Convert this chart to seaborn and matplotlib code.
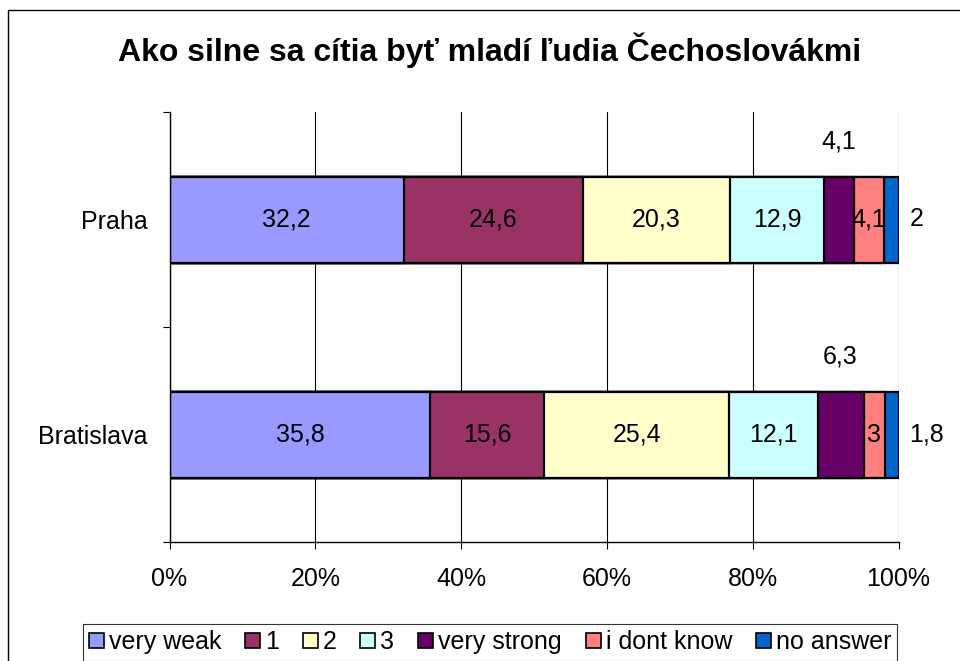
import numpy as np
import pandas as pd
import seaborn as sns
import matplotlib.pyplot as plt
from matplotlib.patches import Patch, Rectangle

# Dáta z grafu
mesta = ['Praha', 'Bratislava']
kategorie = ['very weak', '1', '2', '3', 'very strong', 'i dont know', 'no answer']
praha = [32.2, 24.6, 20.3, 12.9, 4.1, 4.1, 2]
bratislava = [35.8, 15.6, 25.4, 12.1, 6.3, 3, 1.8]
farby = ['#9999FF', '#993366', '#FFFFCC', '#CCFFFF', '#660066', '#FF8080', '#0066CC']
titulok = 'Ako silne sa cítia byť mladí ľudia Čechoslovákmi'

df = pd.DataFrame([praha, bratislava], index=mesta, columns=kategorie)
pct = df.div(df.sum(axis=1), axis=0) * 100
cum = pct.cumsum(axis=1)

sns.set_theme(style='white')
plt.rcParams['font.family'] = ['Liberation Sans', 'DejaVu Sans']
plt.rcParams['text.color'] = 'black'
plt.rcParams['xtick.color'] = 'black'
plt.rcParams['ytick.color'] = 'black'
plt.rcParams['axes.labelcolor'] = 'black'

fig = plt.figure(figsize=(9.6, 6.61), dpi=100)
ax = fig.add_axes([169.5 / 960, 119 / 661, 729 / 960, 430 / 661])

# Stacked bars: najprv najdlhšie kumulatívne, potom kratšie cez ne
for kat, farba in zip(reversed(kategorie), reversed(farby)):
    sns.barplot(x=cum[kat].values, y=mesta, orient='h', color=farba,
                edgecolor='black', linewidth=1.6, width=0.4, ax=ax,
                saturation=1)

ax.set_xlim(0, 100)
ax.set_ylim(1.5, -0.5)
ax.set_xticks(np.arange(0, 101, 20))
ax.set_xticklabels([f'{v}%' for v in range(0, 101, 20)])
ax.set_yticks([0, 1])
ax.set_yticklabels(mesta)
ax.set_yticks([-0.5, 0.5, 1.5], minor=True)
ax.set_xlabel('')
ax.set_ylabel('')
ax.grid(axis='x', color='black', linewidth=0.8)
ax.set_axisbelow(True)
for s in ['top', 'right']:
    ax.spines[s].set_visible(False)
for s in ['left', 'bottom']:
    ax.spines[s].set_color('black')
    ax.spines[s].set_linewidth(1.0)
ax.tick_params(axis='x', which='major', direction='out', length=5, width=0.8,
               color='black', pad=13, labelsize=18, bottom=True)
ax.tick_params(axis='y', which='major', length=0, pad=16, labelsize=18)
ax.tick_params(axis='y', which='minor', direction='out', length=5, width=0.8,
               color='black', left=True)


def fmt(v):
    return f'{v:g}'.replace('.', ',')


# Popisky hodnôt
for i, mesto in enumerate(mesta):
    for j, kat in enumerate(kategorie):
        start = cum.loc[mesto].iloc[j] - pct.loc[mesto].iloc[j]
        stred = start + pct.loc[mesto].iloc[j] / 2
        hodnota = df.loc[mesto, kat]
        if kat == 'very strong':
            ax.annotate(fmt(hodnota), (stred, i), xytext=(0, 56),
                        textcoords='offset points', ha='center', va='center',
                        fontsize=18, color='black')
        elif kat == 'no answer':
            ax.annotate(fmt(hodnota), (100, i), xytext=(8, 0),
                        textcoords='offset points', ha='left', va='center',
                        fontsize=18, color='black', annotation_clip=False)
        else:
            ax.text(stred, i, fmt(hodnota), ha='center', va='center',
                    fontsize=18, color='black')

fig.text(490 / 960, 1 - 50 / 661, titulok, ha='center', va='center',
         fontsize=23, fontweight='bold', color='black')

handles = [Patch(facecolor=f, edgecolor='black', linewidth=1.2, label=k)
           for k, f in zip(kategorie, farby)]
leg = fig.legend(handles=handles, loc='upper center', ncol=7,
                 bbox_to_anchor=(490 / 960, 1 - 624 / 661), fontsize=18,
                 frameon=True, fancybox=False, edgecolor='black',
                 handlelength=0.6, handleheight=0.6, handletextpad=0.2,
                 columnspacing=0.95, borderpad=0.25, borderaxespad=0)
leg.get_frame().set_linewidth(0.8)
for t in leg.get_texts():
    t.set_color('black')

# Vonkajší rámček grafu
fig.patches.append(Rectangle((8 / 960, -0.1), 1.2, 1 - 10 / 661 + 0.1,
                             transform=fig.transFigure, fill=False,
                             edgecolor='black', linewidth=1.0))

fig.savefig('out.png', dpi=100)
